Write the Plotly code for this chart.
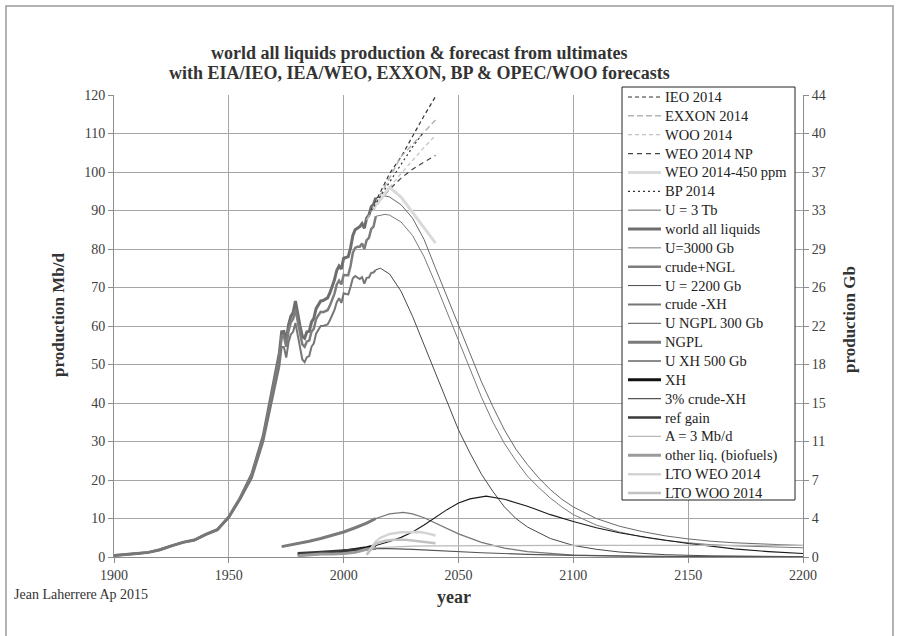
import plotly.graph_objects as go

# ---------------- historical production, Mb/d ----------------
hist_years = [1900, 1905, 1910, 1915, 1920, 1925, 1930, 1935, 1940, 1945, 1950, 1955,
              1960, 1965, 1970, 1972, 1973, 1974, 1975, 1976, 1977, 1978, 1979, 1980,
              1981, 1982, 1983, 1984, 1985, 1986, 1987, 1988, 1989, 1990, 1991, 1992,
              1993, 1994, 1995, 1996, 1997, 1998, 1999, 2000, 2001, 2002, 2003, 2004,
              2005, 2006, 2007, 2008, 2009, 2010, 2011, 2012, 2013, 2014]
world_all_liquids = [0.4, 0.6, 0.9, 1.2, 1.9, 2.9, 3.8, 4.4, 5.9, 7.1, 10.4, 15.4,
                     21.5, 31.5, 47.5, 53.0, 58.5, 58.6, 56.0, 60.3, 62.5, 63.5, 66.5, 63.0,
                     60.0, 57.3, 56.8, 58.5, 58.6, 61.0, 62.0, 64.5, 65.5, 66.5, 66.6, 67.0,
                     67.3, 68.6, 70.3, 72.0, 74.5, 75.6, 74.8, 77.6, 77.8, 78.0, 80.3, 83.5,
                     85.0, 85.5, 85.8, 86.6, 85.4, 88.0, 88.8, 91.0, 91.6, 93.3]
crude_ngl = [0.4, 0.6, 0.9, 1.2, 1.9, 2.9, 3.8, 4.4, 5.9, 7.1, 10.4, 15.3,
             21.2, 31.0, 46.5, 51.8, 57.3, 57.3, 54.6, 58.8, 61.0, 61.8, 64.3, 61.2,
             58.0, 55.2, 54.6, 56.0, 56.2, 58.5, 59.3, 61.8, 62.8, 63.7, 63.6, 63.9,
             64.1, 65.3, 66.8, 68.4, 70.8, 71.8, 70.8, 73.3, 73.2, 73.2, 75.6, 79.0,
             80.3, 80.6, 80.6, 81.4, 80.0, 82.3, 82.9, 85.2, 85.8, 88.5]
crude_minus_xh = [0.4, 0.6, 0.9, 1.2, 1.9, 2.9, 3.8, 4.4, 5.9, 7.1, 10.3, 15.1,
                  20.5, 30.0, 44.5, 49.5, 54.6, 54.5, 51.8, 55.8, 57.8, 58.5, 60.8, 57.5,
                  54.2, 51.3, 50.6, 51.9, 52.2, 54.6, 55.5, 58.0, 59.0, 60.0, 60.0, 60.2,
                  60.4, 61.5, 62.8, 64.2, 66.2, 67.2, 66.0, 68.5, 68.3, 68.2, 70.2, 72.4,
                  73.0, 72.6, 72.2, 72.7, 71.0, 72.5, 72.6, 73.8, 73.9, 74.6]

ngpl_years = [1973, 1976, 1980, 1985, 1990, 1995, 2000, 2005, 2010, 2014]
ngpl = [2.7, 3.0, 3.5, 4.1, 4.8, 5.6, 6.5, 7.6, 8.8, 10.0]

xh_years = [1980, 1985, 1990, 1995, 2000, 2005, 2010, 2014]
xh = [0.6, 0.7, 0.9, 1.1, 1.5, 1.9, 2.4, 3.0]

refgain_years = [1980, 1985, 1990, 1995, 2000, 2005, 2010, 2014]
ref_gain = [1.0, 1.1, 1.3, 1.5, 1.7, 1.9, 2.1, 2.2]

bio_years = [1980, 1985, 1990, 1995, 2000, 2005, 2008, 2010, 2014]
other_liquids = [0.3, 0.6, 0.8, 0.8, 0.9, 1.2, 1.8, 2.0, 2.4]

# ---------------- agency forecasts, Mb/d ----------------
ieo_years = [2012, 2020, 2025, 2030, 2035, 2040]
ieo_2014 = [90.0, 99.6, 103.9, 109.4, 114.6, 119.6]
exxon_years = [2010, 2025, 2040]
exxon_2014 = [87.5, 104.0, 113.5]
woo_years = [2013, 2020, 2025, 2030, 2035, 2040]
woo_2014 = [90.0, 96.0, 99.6, 103.0, 106.4, 109.5]
weo_np_years = [2013, 2020, 2025, 2030, 2035, 2040]
weo_2014_np = [90.6, 95.5, 98.4, 100.7, 102.6, 104.3]
weo450_years = [2013, 2020, 2025, 2030, 2035, 2040]
weo_2014_450 = [90.6, 96.0, 93.5, 89.5, 85.5, 81.5]
bp_years = [2012, 2020, 2025, 2030, 2035]
bp_2014 = [90.0, 97.5, 102.0, 106.5, 110.5]

# ---------------- ultimate-based models, Mb/d ----------------
u3tb_years = [2014, 2018, 2020, 2025, 2030, 2035, 2040, 2045, 2050, 2055, 2060, 2065,
              2070, 2075, 2080, 2085, 2090, 2095, 2100, 2110, 2120, 2130, 2140, 2150,
              2160, 2170, 2180, 2190, 2200]
u_3tb = [93.3, 93.8, 93.5, 91.5, 88.0, 82.5, 75.0, 67.5, 60.0, 52.5, 45.5, 39.0,
         33.0, 28.0, 24.0, 20.5, 17.5, 15.0, 13.0, 10.0, 8.0, 6.6, 5.5, 4.7,
         4.1, 3.7, 3.4, 3.2, 3.0]
u3000_years = u3tb_years
u_3000 = [88.5, 89.0, 88.8, 87.0, 83.5, 78.0, 71.0, 63.5, 56.0, 48.5, 41.5, 35.0,
          29.5, 25.0, 21.0, 18.0, 15.3, 13.0, 11.0, 8.3, 6.5, 5.2, 4.3, 3.7,
          3.2, 2.9, 2.7, 2.5, 2.4]
u2200_years = [2014, 2016, 2020, 2025, 2030, 2035, 2040, 2045, 2050, 2055, 2060, 2065,
               2070, 2075, 2080, 2090, 2100, 2110, 2120, 2140, 2160, 2200]
u_2200 = [74.6, 75.0, 73.5, 69.0, 62.5, 55.0, 47.5, 40.0, 33.0, 27.0, 21.5, 17.0,
          13.0, 10.0, 7.8, 4.8, 3.0, 2.0, 1.3, 0.6, 0.3, 0.1]
ungpl_years = [2014, 2020, 2026, 2030, 2035, 2040, 2045, 2050, 2060, 2070, 2080, 2100,
               2130, 2160]
u_ngpl = [10.0, 11.2, 11.6, 11.2, 10.2, 8.8, 7.4, 6.0, 3.8, 2.3, 1.4, 0.5,
          0.15, 0.05]
uxh_years = [2014, 2020, 2025, 2030, 2035, 2040, 2045, 2050, 2055, 2062, 2070, 2080,
             2090, 2100, 2110, 2120, 2133, 2150, 2170, 2185, 2200]
u_xh = [3.0, 4.0, 5.1, 6.5, 8.3, 10.3, 12.3, 14.0, 15.1, 15.8, 15.0, 13.2,
        11.0, 9.2, 7.6, 6.3, 5.0, 3.5, 2.1, 1.4, 0.9]
gain3_years = [2014, 2020, 2030, 2040, 2060, 2080, 2100, 2130, 2160, 2200]
gain_3pct = [2.2, 2.2, 2.0, 1.7, 1.1, 0.7, 0.4, 0.2, 0.1, 0.05]
a3_years = [2014, 2020, 2030, 2040, 2050, 2070, 2100, 2150, 2200]
a_3mbd = [2.4, 2.6, 2.8, 2.9, 2.95, 2.98, 3.0, 3.0, 3.0]
lto_weo_years = [2010, 2012, 2014, 2016, 2020, 2025, 2030, 2033, 2036, 2040]
lto_weo_2014 = [0.6, 2.2, 4.0, 5.0, 6.0, 6.4, 6.5, 6.5, 6.2, 5.6]
lto_woo_years = [2010, 2012, 2014, 2018, 2022, 2027, 2032, 2036, 2040]
lto_woo_2014 = [0.6, 2.0, 3.5, 4.2, 4.5, 4.5, 4.1, 3.8, 3.6]

# right-hand scale: 1 Mb/d = 0.365 Gb/yr
gb_ticks = ["0", "4", "7", "11", "15", "18", "22", "26", "29", "33", "37", "40", "44"]

# legend order, series and line style
series = [
    ("IEO 2014", ieo_years, ieo_2014, "#333333", 1.2, "4px,3px"),
    ("EXXON 2014", exxon_years, exxon_2014, "#b4b4b4", 1.5, "6px,3px"),
    ("WOO 2014", woo_years, woo_2014, "#c4c4c4", 1.3, "4px,3px"),
    ("WEO 2014 NP", weo_np_years, weo_2014_np, "#444444", 1.2, "5px,4px"),
    ("WEO 2014-450 ppm", weo450_years, weo_2014_450, "#dadada", 3, "solid"),
    ("BP 2014", bp_years, bp_2014, "#333333", 1.2, "2px,3px"),
    ("U = 3 Tb", u3tb_years, u_3tb, "#6a6a6a", 1, "solid"),
    ("world all liquids", hist_years, world_all_liquids, "#6e6e6e", 3, "solid"),
    ("U=3000 Gb", u3000_years, u_3000, "#7a7a7a", 1, "solid"),
    ("crude+NGL", hist_years, crude_ngl, "#7d7d7d", 2.5, "solid"),
    ("U = 2200 Gb", u2200_years, u_2200, "#4a4a4a", 1, "solid"),
    ("crude -XH", hist_years, crude_minus_xh, "#767676", 2, "solid"),
    ("U NGPL 300 Gb", ungpl_years, u_ngpl, "#777777", 1.3, "solid"),
    ("NGPL", ngpl_years, ngpl, "#7a7a7a", 3, "solid"),
    ("U XH 500 Gb", uxh_years, u_xh, "#1a1a1a", 1.1, "solid"),
    ("XH", xh_years, xh, "#111111", 3, "solid"),
    ("3% crude-XH", gain3_years, gain_3pct, "#555555", 1.2, "solid"),
    ("ref gain", refgain_years, ref_gain, "#3a3a3a", 2.5, "solid"),
    ("A = 3 Mb/d", a3_years, a_3mbd, "#b8b8b8", 1.2, "solid"),
    ("other liq. (biofuels)", bio_years, other_liquids, "#9a9a9a", 3, "solid"),
    ("LTO WEO 2014", lto_weo_years, lto_weo_2014, "#d4d4d4", 2.5, "solid"),
    ("LTO WOO 2014", lto_woo_years, lto_woo_2014, "#c2c2c2", 2.5, "solid"),
]

W, H = 899, 636
L, R, T, B = 114, 96, 95, 79
PW, PH = W - L - R, H - T - B


def px(x):
    return (x - L) / PW


def py(y):
    return (H - B - y) / PH


FONT = "Liberation Serif"
TXT = "#333333"
fig = go.Figure()

# background curves first so the dashed forecasts stay on top
draw_order = list(range(6, len(series))) + list(range(0, 6))
for i in draw_order:
    name, xs, ys, col, wid, dash = series[i]
    fig.add_trace(go.Scatter(x=xs, y=ys, name=name, mode="lines",
                             line=dict(color=col, width=wid, dash=dash),
                             showlegend=False, hoverinfo="skip"))

axis_common = dict(showline=True, linecolor="#8c8c8c", linewidth=1,
                   ticks="outside", ticklen=5, tickcolor="#8c8c8c",
                   tickfont=dict(family=FONT, size=14, color="#404040"))

fig.update_layout(
    width=W, height=H,
    margin=dict(l=L, r=R, t=T, b=B),
    paper_bgcolor="white", plot_bgcolor="white",
    showlegend=False,
    xaxis=dict(range=[1900, 2200], dtick=50, tick0=1900, showgrid=True,
               gridcolor="#a6a6a6", gridwidth=1, zeroline=False, **axis_common),
    yaxis=dict(range=[0, 120], dtick=10, showgrid=True, gridcolor="#a6a6a6",
               gridwidth=1, zeroline=False, **axis_common),
    yaxis2=dict(range=[0, 120 * 0.365], overlaying="y", side="right", anchor="x",
                tickvals=[k * 3.65 for k in range(13)], ticktext=gb_ticks,
                showgrid=False, zeroline=False, **axis_common),
)

# a trace on the Gb scale keeps the right axis active
fig.add_trace(go.Scatter(x=[hist_years[-1]], y=[world_all_liquids[-1] * 0.365],
                         yaxis="y2", mode="lines", showlegend=False,
                         hoverinfo="skip", line=dict(width=0)))


def label(text, x, y, size, angle=0, xanchor="center", color=TXT):
    return dict(text=text, x=px(x), y=py(y), xref="paper", yref="paper",
                xanchor=xanchor, yanchor="middle", showarrow=False,
                textangle=angle, font=dict(family=FONT, size=size, color=color))


ann = [
    label("<b>world all liquids production & forecast from ultimates</b>", 419, 53, 18),
    label("<b>with EIA/IEO, IEA/WEO, EXXON, BP & OPEC/WOO forecasts</b>", 419, 73, 18),
    label("<b>production Mb/d</b>", 58, 315, 17, angle=-90),
    label("<b>production Gb</b>", 849, 320, 17, angle=-90),
    label("<b>year</b>", 454, 597, 18),
    label("Jean Laherrere Ap 2015", 12, 594, 14, xanchor="left"),
]

shapes = []
# outer frame (its lower edge lies below the page)
shapes.append(dict(type="rect", xref="paper", yref="paper", x0=px(6), x1=px(893),
                   y0=py(6), y1=py(650), line=dict(color="#9a9a9a", width=1.5),
                   layer="below"))

# legend box with one sample line and label per series
lg_l, lg_r, lg_t, lg_b = 622, 795, 87, 500
shapes.append(dict(type="rect", xref="paper", yref="paper", x0=px(lg_l), x1=px(lg_r),
                   y0=py(lg_t), y1=py(lg_b), fillcolor="white",
                   line=dict(color="#222222", width=1), layer="above"))
row0, row_last = 97, 493
pitch = (row_last - row0) / (len(series) - 1)
for k, (name, xs, ys, col, wid, dash) in enumerate(series):
    yc = row0 + pitch * k
    shapes.append(dict(type="line", xref="paper", yref="paper", x0=px(628),
                       x1=px(661), y0=py(yc), y1=py(yc), layer="above",
                       line=dict(color=col, width=wid, dash=dash)))
    ann.append(label(name, 663, yc, 14.5, xanchor="left", color="#222222"))

fig.update_layout(annotations=ann, shapes=shapes)
fig.write_html("out.html")
